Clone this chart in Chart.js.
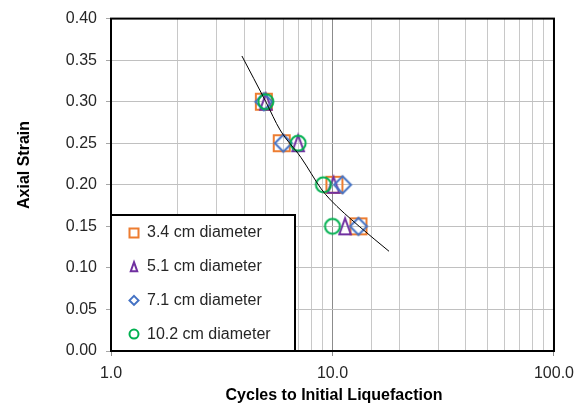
<!DOCTYPE html>
<html>
<head>
<meta charset="utf-8">
<script src="https://cdn.jsdelivr.net/npm/chart.js@4"></script>
<style>
  body { margin: 0; background: #fff; }
  canvas { display: block; }
</style>
</head>
<body>
<canvas id="myChart" width="582" height="406"></canvas>
<script>
// values
const seriesNames = ["3.4 cm diameter", "5.1 cm diameter", "7.1 cm diameter", "10.2 cm diameter"];
const strainLevels = [0.30, 0.25, 0.20, 0.15];
const cycles34 = [4.9, 5.9, 10.2, 13.1];
const cycles51 = [5.0, 7.0, 10.1, 11.4];
const cycles71 = [4.9, 6.0, 11.1, 13.1];
const cycles102 = [5.0, 7.0, 9.1, 10.0];

const curveCycles = [3.9, 5.0, 5.8, 7.2, 8.9, 9.7, 13.2, 18.0];
const curveStrain = [0.355, 0.300, 0.266, 0.233, 0.195, 0.183, 0.150, 0.120];

const xTickLabels = [1, 10, 100];
const colores = ["#ED7D31", "#7030A0", "#4472C4", "#00B050"];
const formas = ["square", "triangle", "diamond", "circle"];

function dibujarForma(ctx, forma, cx, cy, s) {
    ctx.beginPath();
    if (forma === "square") {
        ctx.rect(cx - s / 2, cy - s / 2, s, s);
    } else if (forma === "triangle") {
        const w = s * 0.72;
        ctx.moveTo(cx, cy - s / 2);
        ctx.lineTo(cx + w / 2, cy + s / 2);
        ctx.lineTo(cx - w / 2, cy + s / 2);
        ctx.closePath();
    } else if (forma === "diamond") {
        ctx.moveTo(cx, cy - s / 2);
        ctx.lineTo(cx + s / 2, cy);
        ctx.lineTo(cx, cy + s / 2);
        ctx.lineTo(cx - s / 2, cy);
        ctx.closePath();
    } else {
        ctx.arc(cx, cy, s / 2, 0, Math.PI * 2);
    }
    ctx.stroke();
}

function crearMarcador(forma, color, s) {
    const c = document.createElement("canvas");
    c.width = 22;
    c.height = 22;
    const ctx = c.getContext("2d");
    ctx.strokeStyle = color;
    ctx.lineWidth = 2;
    dibujarForma(ctx, forma, 11, 11, s);
    return c;
}

const tamanos = {square: 16, triangle: 16, diamond: 17, circle: 15};

function puntos(xs) {
    return xs.map((x, i) => ({x: x, y: strainLevels[i]}));
}

const seriesCycles = [cycles34, cycles51, cycles71, cycles102];

const datasets = seriesCycles.map((xs, i) => ({
    label: seriesNames[i],
    data: puntos(xs),
    pointStyle: crearMarcador(formas[i], colores[i], tamanos[formas[i]]),
    showLine: false,
    order: 4 - i
}));

datasets.push({
    label: "trend",
    data: curveCycles.map((x, i) => ({x: x, y: curveStrain[i]})),
    showLine: true,
    borderColor: "#000",
    borderWidth: 1,
    pointRadius: 0,
    tension: 0.4,
    cubicInterpolationMode: "monotone",
    order: 0
});

const FUENTE = '"Liberation Sans", Arial, sans-serif';

const marcoYLeyenda = {
    id: "marcoYLeyenda",
    afterDatasetsDraw(chart) {
        const ctx = chart.ctx;
        const a = chart.chartArea;
        ctx.save();
        ctx.strokeStyle = "#000";
        ctx.lineWidth = 2;
        ctx.strokeRect(a.left, a.top, a.right - a.left, a.bottom - a.top);

        // legend box inside the plot
        const bx = a.left, by = 215, bw = 184, bh = a.bottom - 215;
        ctx.fillStyle = "#fff";
        ctx.fillRect(bx, by, bw, bh);
        ctx.strokeRect(bx, by, bw, bh);

        ctx.font = "16px " + FUENTE;
        ctx.textBaseline = "middle";
        ctx.textAlign = "left";
        seriesNames.forEach((nombre, i) => {
            const yy = 233 + i * 33.7;
            ctx.strokeStyle = colores[i];
            ctx.lineWidth = 2;
            dibujarForma(ctx, formas[i], 134, yy, 9);
            ctx.fillStyle = "#262626";
            ctx.fillText(nombre, 147, yy);
        });

        // axis titles
        ctx.fillStyle = "#000";
        ctx.font = "bold 16px " + FUENTE;
        ctx.textAlign = "center";
        ctx.fillText("Cycles to Initial Liquefaction", 334, 396);
        ctx.translate(25, 165);
        ctx.rotate(-Math.PI / 2);
        ctx.fillText("Axial Strain", 0, 0);
        ctx.restore();
    }
};

new Chart("myChart", {
    type: "scatter",
    data: {datasets: datasets},
    plugins: [marcoYLeyenda],
    options: {
        responsive: false,
        animation: false,
        layout: {padding: {top: 17, right: 26, left: 0, bottom: 0}},
        plugins: {
            legend: {display: false},
            tooltip: {enabled: false}
        },
        scales: {
            x: {
                type: "logarithmic",
                min: 1,
                max: 100,
                afterFit: s => { s.height = 55; },
                border: {color: "#000", width: 2},
                grid: {
                    color: c => (c.tick && c.tick.value === 10) ? "#8c8c8c" : "#c8c8c8",
                    tickColor: c => (c.tick && xTickLabels.includes(c.tick.value)) ? "#8c8c8c" : "rgba(0,0,0,0)",
                    tickLength: 5
                },
                ticks: {
                    autoSkip: false,
                    maxRotation: 0,
                    padding: 8,
                    color: "#262626",
                    font: {family: FUENTE, size: 16},
                    callback: v => xTickLabels.includes(v) ? Number(v).toFixed(1) : ""
                }
            },
            y: {
                min: 0,
                max: 0.4,
                afterFit: s => { s.width = 111; },
                border: {color: "#000", width: 2},
                grid: {color: "#c0c0c0", tickColor: "#a6a6a6", tickLength: 5},
                ticks: {
                    stepSize: 0.05,
                    padding: 9,
                    color: "#262626",
                    font: {family: FUENTE, size: 16},
                    callback: v => Number(v).toFixed(2)
                }
            }
        }
    }
});
</script>
</body>
</html>
